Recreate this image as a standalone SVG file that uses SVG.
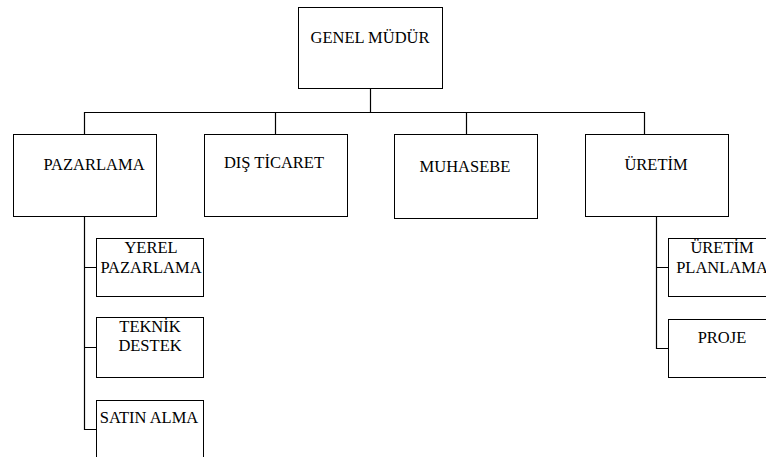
<svg xmlns="http://www.w3.org/2000/svg" width="766" height="457" viewBox="0 0 766 457">
<style>
.box{fill:#fff;stroke:#000;stroke-width:1}
.t{font-family:"Liberation Serif","Times New Roman",serif;font-size:16.5px;fill:#000;text-anchor:middle}
.c{fill:none;stroke:#000;stroke-width:1.2}
</style>
<rect width="766" height="457" fill="#fff"/>
<g id="connectors">
<path class="c" d="M370.5 88 V112" stroke-width="2"/>
<path class="c" d="M84.5 134 V112.5 H644.5 V134"/>
<path class="c" d="M275.5 112.5 V134 M466.5 112.5 V134"/>
<path class="c" d="M84.5 216 V429.5 H96 M84.5 267.5 H96 M84.5 347.5 H96"/>
<path class="c" d="M656.5 216 V348.5 H668 M656.5 267.5 H668"/>
</g>
<g id="genel-mudur">
<rect class="box" x="298.5" y="7.5" width="144" height="81"/>
<text class="t" x="370" y="43">GENEL MÜDÜR</text>
</g>
<g id="pazarlama">
<rect class="box" x="13.5" y="134.5" width="143" height="82"/>
<text class="t" x="94" y="170">PAZARLAMA</text>
</g>
<g id="dis-ticaret">
<rect class="box" x="204.5" y="134.5" width="143" height="82"/>
<text class="t" x="274" y="168">DIŞ TİCARET</text>
</g>
<g id="muhasebe">
<rect class="box" x="394.5" y="134.5" width="143" height="84"/>
<text class="t" x="465" y="172">MUHASEBE</text>
</g>
<g id="uretim">
<rect class="box" x="585.5" y="134.5" width="143" height="82"/>
<text class="t" x="656" y="170">ÜRETİM</text>
</g>
<g id="yerel-pazarlama">
<rect class="box" x="96.5" y="238.5" width="107" height="58"/>
<text class="t" x="151" y="253">YEREL</text>
<text class="t" x="151" y="273">PAZARLAMA</text>
</g>
<g id="teknik-destek">
<rect class="box" x="96.5" y="317.5" width="107" height="60"/>
<text class="t" x="150" y="332">TEKNİK</text>
<text class="t" x="150" y="351">DESTEK</text>
</g>
<g id="satin-alma">
<rect class="box" x="96.5" y="400.5" width="107" height="70"/>
<text class="t" x="149" y="423">SATIN ALMA</text>
</g>
<g id="uretim-planlama">
<rect class="box" x="668.5" y="238.5" width="110" height="58"/>
<text class="t" x="722" y="253">ÜRETİM</text>
<text class="t" x="722" y="273">PLANLAMA</text>
</g>
<g id="proje">
<rect class="box" x="668.5" y="319.5" width="110" height="58"/>
<text class="t" x="722" y="343">PROJE</text>
</g>
</svg>
